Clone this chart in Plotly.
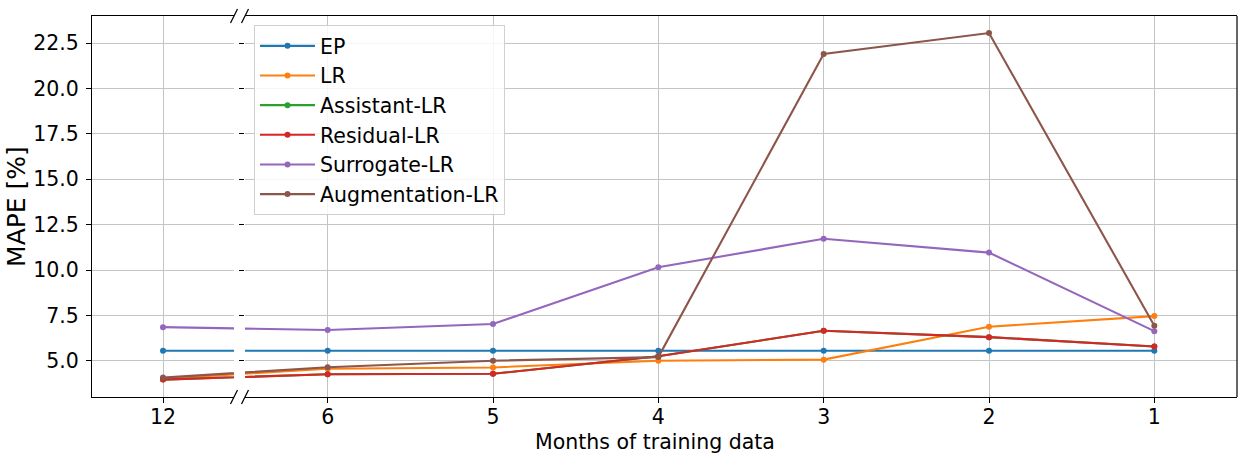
import plotly.graph_objects as go

months = ["12", "6", "5", "4", "3", "2", "1"]
series_names = ["EP", "LR", "Assistant-LR", "Residual-LR", "Surrogate-LR", "Augmentation-LR"]
ep = [5.55, 5.55, 5.55, 5.55, 5.55, 5.55, 5.55]
lr = [4.01, 4.56, 4.63, 5.00, 5.06, 6.87, 7.46]
assistant_lr = [3.96, 4.25, 4.28, 5.25, 6.65, 6.30, 5.78]
residual_lr = [3.96, 4.25, 4.28, 5.25, 6.65, 6.30, 5.78]
surrogate_lr = [6.85, 6.69, 7.02, 10.15, 11.72, 10.96, 6.63]
augmentation_lr = [4.07, 4.64, 5.00, 5.20, 21.91, 23.06, 6.93]
y_ticks = [5.0, 7.5, 10.0, 12.5, 15.0, 17.5, 20.0, 22.5]

series = [ep, lr, assistant_lr, residual_lr, surrogate_lr, augmentation_lr]
colors = ["#1f77b4", "#ff7f0e", "#2ca02c", "#d62728", "#9467bd", "#8c564b"]
pos = list(range(len(months)))

W, H = 1247, 459
ml, mr, mt, mb = 92, 10, 16, 62
pw = W - ml - mr
ph = H - mt - mb
left_end = (234 - ml) / pw
right_start = (245 - ml) / pw

fig = go.Figure()
for name, vals, col in zip(series_names, series, colors):
    for xa, ya, show in (("x", "y", False), ("x2", "y2", True)):
        fig.add_trace(go.Scatter(
            x=pos, y=vals, name=name, mode="lines+markers",
            line=dict(color=col, width=2.1),
            marker=dict(color=col, size=6),
            xaxis=xa, yaxis=ya, showlegend=show, legendgroup=name,
        ))

font = dict(family="DejaVu Sans", size=20.5, color="black")
grid = dict(showgrid=True, gridcolor="#c4c4c4", gridwidth=1.4, zeroline=False)

fig.update_layout(
    width=W, height=H,
    margin=dict(l=ml, r=mr, t=mt, b=mb, autoexpand=False),
    paper_bgcolor="white", plot_bgcolor="white",
    font=font,
    showlegend=True,
    legend=dict(
        x=(254 - ml) / pw, y=(H - mb - 25) / ph, xanchor="left", yanchor="top",
        bgcolor="rgba(255,255,255,0.85)", bordercolor="#d0d0d0", borderwidth=1,
        font=dict(family="DejaVu Sans", size=20.5, color="black"),
        tracegroupgap=0, itemwidth=55,
    ),
    xaxis=dict(
        domain=[0, left_end], range=[-0.43, 0.43],
        tickmode="array", tickvals=pos, ticktext=months,
        ticks="outside", ticklen=5, tickcolor="black", ticklabelstandoff=-4,
        showline=True, linecolor="black", linewidth=1.2, mirror=True,
        anchor="y", **grid,
    ),
    xaxis2=dict(
        domain=[right_start, 1], range=[0.5, 6.5],
        tickmode="array", tickvals=pos, ticktext=months,
        ticks="outside", ticklen=5, tickcolor="black", ticklabelstandoff=-4,
        showline=True, linecolor="black", linewidth=1.2, mirror=True,
        anchor="y2", **grid,
    ),
    yaxis=dict(
        range=[3.0, 24.0], tickmode="array", tickvals=y_ticks,
        ticktext=[f"{v:.1f}" for v in y_ticks],
        ticks="outside", ticklen=5, tickcolor="black", ticklabelstandoff=3,
        showline=True, linecolor="black", linewidth=1.2, mirror=False,
        anchor="x", title=dict(text="MAPE [%]", standoff=0), **grid,
    ),
    yaxis2=dict(
        range=[3.0, 24.0], tickmode="array", tickvals=y_ticks,
        showticklabels=False, matches="y",
        ticks="outside", ticklen=5, tickcolor="black",
        showline=False, anchor="x2", **grid,
    ),
)

# x-axis title
fig.add_annotation(
    text="Months of training data", xref="paper", yref="paper",
    x=(655 - ml) / pw, y=-(442 - (H - mb)) / ph, xanchor="center", yanchor="middle",
    showarrow=False, font=font,
)

# right spine of the right axes
fig.add_shape(type="line", xref="x2 domain", yref="y2 domain",
              x0=1, x1=1, y0=0, y1=1, line=dict(color="black", width=1.2))

# break marks
for px in (234, 245):
    for py in (mt, H - mb):
        x0 = (px - 3.5 - ml) / pw
        x1 = (px + 3.5 - ml) / pw
        y0 = (H - mb - (py + 7)) / ph
        y1 = (H - mb - (py - 7)) / ph
        fig.add_shape(type="line", xref="paper", yref="paper",
                      x0=x0, x1=x1, y0=y0, y1=y1,
                      line=dict(color="black", width=1.2))

fig.write_html("out.html")
